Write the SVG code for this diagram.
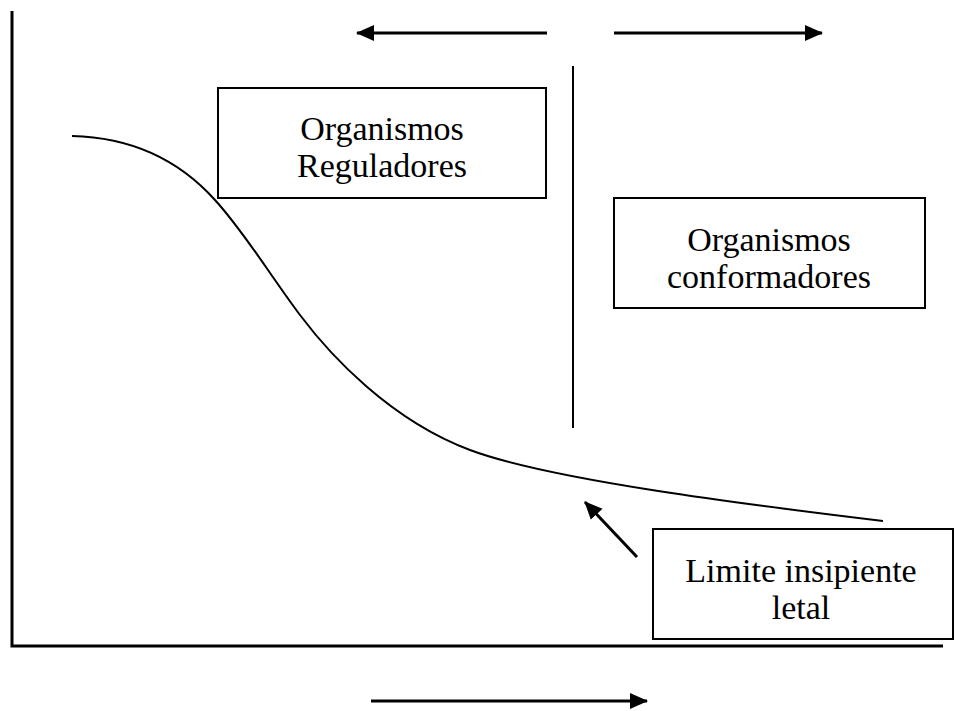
<svg xmlns="http://www.w3.org/2000/svg" width="955" height="711" viewBox="0 0 955 711">
<style>
.box{fill:#fff;stroke:#000;stroke-width:2}
.t{font-family:"Liberation Serif","Times New Roman",serif;font-size:34px;fill:#000;text-anchor:middle}
.ln{stroke:#000;stroke-width:3;fill:none}
</style>
<defs>
<marker id="ah" markerUnits="userSpaceOnUse" markerWidth="18" markerHeight="18" viewBox="0 0 18 18" refX="17" refY="9" orient="auto">
<path d="M0,1 L18,9 L0,17 Z" fill="#000"/>
</marker>
</defs>
<rect width="955" height="711" fill="#fff"/>
<g id="axes">
<path d="M12,11 V646 H943" stroke="#000" stroke-width="3" fill="none"/>
</g>
<g id="curve">
<path d="M72,136 C115,137 170,150 215,200 C245,233 270,275 300,315 C330,355 390,420 470,450 C550,480 750,505 883,521" stroke="#000" stroke-width="2" fill="none"/>
</g>
<g id="divider">
<line x1="573" y1="66" x2="573" y2="428" stroke="#000" stroke-width="2"/>
</g>
<g id="reguladores">
<rect class="box" x="218" y="88" width="328" height="110"/>
<text class="t" x="382" y="140">Organismos</text>
<text class="t" x="382" y="177">Reguladores</text>
</g>
<g id="conformadores">
<rect class="box" x="614" y="198" width="311" height="110"/>
<text class="t" x="769" y="251">Organismos</text>
<text class="t" x="769" y="288">conformadores</text>
</g>
<g id="limite">
<rect class="box" x="653" y="529" width="300" height="110"/>
<text class="t" x="801" y="582">Limite insipiente</text>
<text class="t" x="801" y="619">letal</text>
</g>
<g id="connectors">
<line class="ln" x1="547" y1="33" x2="357" y2="33" marker-end="url(#ah)"/>
<line class="ln" x1="614" y1="33" x2="822" y2="33" marker-end="url(#ah)"/>
<line class="ln" x1="371" y1="701" x2="647" y2="701" marker-end="url(#ah)"/>
<line class="ln" x1="637" y1="557" x2="585" y2="502" marker-end="url(#ah)"/>
</g>
</svg>
